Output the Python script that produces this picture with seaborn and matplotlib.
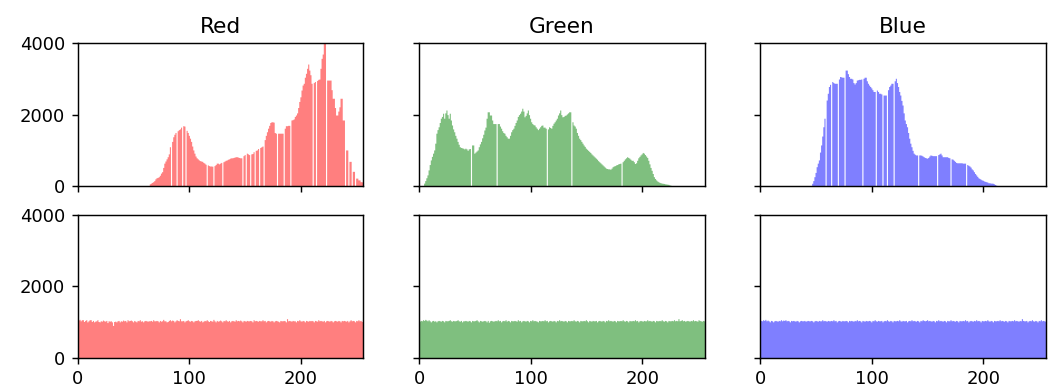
import numpy as np
import pandas as pd
import matplotlib
matplotlib.use("Agg")
import matplotlib.pyplot as plt
import seaborn as sns

# Per-channel pixel counts for intensity levels 0..255
channels = ["Red", "Green", "Blue"]
channel_colors = ["r", "g", "b"]
levels = np.arange(256)

# Original image
red_counts = [
    0, 0, 0, 0, 0, 0, 0, 0, 0, 0, 0, 0, 0, 0, 0, 0,
    0, 0, 0, 0, 0, 0, 0, 0, 0, 0, 0, 0, 0, 0, 0, 0,
    0, 0, 0, 0, 0, 0, 0, 0, 0, 0, 0, 0, 0, 0, 0, 0,
    0, 0, 0, 0, 0, 0, 0, 0, 0, 0, 0, 0, 0, 0, 0, 0,
    60, 80, 100, 120, 150, 200, 230, 240, 260, 300, 360, 400, 520, 640, 700, 760,
    820, 900, 1100, 0, 1250, 1380, 1450, 1500, 0, 1550, 1580, 1600, 1650, 0, 1690, 1680,
    0, 1560, 1500, 1420, 1340, 1250, 1120, 1010, 920, 840, 790, 760, 730, 710, 700, 690,
    660, 640, 610, 0, 590, 570, 560, 560, 555, 0, 570, 600, 640, 640, 620, 640,
    660, 0, 680, 700, 720, 730, 750, 760, 780, 790, 790, 800, 810, 820, 820, 810,
    800, 790, 790, 0, 850, 880, 0, 920, 900, 880, 0, 900, 910, 960, 0, 1000,
    1010, 1050, 0, 1080, 1100, 1120, 0, 1300, 1420, 1520, 1620, 1700, 1780, 1800, 1800, 1790,
    1500, 1480, 0, 1480, 1480, 1480, 1480, 1480, 0, 1620, 1690, 1690, 1700, 1700, 0, 1850,
    1860, 1880, 1950, 1990, 2050, 2200, 2370, 2500, 2690, 2830, 2880, 3050, 3160, 3300, 3420, 3250,
    3120, 2880, 0, 2900, 2930, 0, 2960, 2990, 3000, 3300, 3580, 3700, 4150, 4150, 0, 2970,
    2970, 2970, 2970, 2700, 2460, 2460, 2200, 1990, 1990, 2100, 2220, 2460, 2460, 1850, 1850, 0,
    1010, 1010, 0, 690, 690, 0, 410, 410, 0, 220, 220, 170, 170, 120, 120, 100,
]

green_counts = [
    0, 0, 0, 0, 80, 150, 230, 310, 450, 600, 730, 830, 920, 1010, 1200, 1480,
    1580, 1660, 1780, 1900, 1950, 2040, 1900, 2050, 2130, 2000, 1900, 2040, 1850, 1710, 1600, 1520,
    1420, 1340, 1250, 1170, 1100, 1080, 1070, 1060, 1040, 1060, 1040, 1000, 1040, 1050, 0, 1150,
    1150, 920, 950, 980, 1010, 1100, 1180, 1250, 1350, 1450, 1570, 1650, 1900, 2080, 2080, 1990,
    1990, 1850, 1750, 1750, 1750, 0, 1750, 1750, 1680, 1620, 1550, 1500, 1480, 1420, 1380, 1340,
    1340, 1420, 1520, 1580, 1620, 1700, 1780, 1850, 1950, 2000, 2040, 2100, 2180, 2100, 1940, 1980,
    2050, 2130, 2000, 1900, 1800, 1750, 1720, 1710, 1660, 1620, 1580, 1620, 1660, 1700, 1710, 1650,
    1650, 1620, 0, 1600, 1660, 1640, 1620, 1700, 1760, 1800, 1850, 1900, 1990, 2050, 2130, 2000,
    1940, 1950, 1980, 1990, 2020, 2050, 2080, 2080, 0, 1800, 1710, 1680, 1620, 1500, 1420, 1340,
    1300, 1250, 1200, 1150, 1110, 1060, 1030, 1000, 970, 940, 900, 870, 840, 810, 780, 750,
    710, 680, 650, 620, 590, 560, 530, 500, 490, 480, 480, 470, 500, 540, 560, 570,
    590, 600, 620, 630, 640, 0, 680, 720, 760, 790, 820, 800, 780, 750, 720, 720,
    680, 630, 650, 720, 790, 830, 870, 900, 940, 920, 880, 840, 800, 720, 620, 520,
    440, 350, 260, 210, 170, 140, 120, 100, 90, 80, 75, 70, 60, 55, 50, 45,
    30, 20, 0, 0, 0, 0, 0, 0, 0, 0, 0, 0, 0, 0, 0, 0,
    0, 0, 0, 0, 0, 0, 0, 0, 0, 0, 0, 0, 0, 0, 0, 0,
]

blue_counts = [
    0, 0, 0, 0, 0, 0, 0, 0, 0, 0, 0, 0, 0, 0, 0, 0,
    0, 0, 0, 0, 0, 0, 0, 0, 0, 0, 0, 0, 0, 0, 0, 0,
    0, 0, 0, 0, 0, 0, 0, 0, 0, 0, 0, 0, 0, 0, 75, 150,
    260, 380, 540, 640, 730, 950, 1150, 1400, 1660, 1900, 0, 2410, 2600, 2790, 2850, 0,
    2930, 2900, 2880, 2880, 2880, 0, 3000, 3070, 3060, 3050, 3050, 0, 3250, 3250, 3150, 3070,
    3020, 3020, 3000, 2900, 2860, 2900, 2970, 2980, 2990, 2990, 3000, 0, 3020, 3050, 3050, 2950,
    2880, 2830, 2790, 2750, 2700, 2650, 2650, 0, 2690, 2650, 2600, 2600, 2580, 0, 2550, 2550,
    2550, 0, 2700, 2790, 2830, 2880, 2880, 0, 2950, 3020, 2900, 2790, 2650, 2550, 2400, 2270,
    2050, 1850, 1750, 1660, 1500, 1340, 1200, 1100, 1000, 920, 890, 870, 870, 0, 870, 870,
    860, 840, 820, 800, 790, 780, 800, 840, 870, 860, 850, 850, 850, 850, 0, 880,
    900, 920, 870, 820, 820, 820, 820, 820, 800, 790, 0, 760, 750, 720, 690, 660,
    650, 650, 650, 650, 650, 640, 640, 640, 0, 600, 580, 560, 530, 480, 450, 400,
    350, 310, 270, 230, 210, 190, 170, 160, 140, 130, 120, 110, 90, 90, 80, 80,
    75, 60, 40, 20, 0, 0, 0, 0, 0, 0, 0, 0, 0, 0, 0, 0,
    0, 0, 0, 0, 0, 0, 0, 0, 0, 0, 0, 0, 0, 0, 0, 0,
    0, 0, 0, 0, 0, 0, 0, 0, 0, 0, 0, 0, 0, 0, 0, 0,
]

# After histogram equalization
red_eq_counts = [
    1050, 1070, 1030, 1060, 1060, 1010, 1040, 1060, 1000, 1030, 1060, 1060, 1010, 1040, 1000, 1020,
    1030, 1060, 1010, 1000, 1030, 1020, 1050, 1030, 1020, 1040, 980, 1030, 1020, 1030, 1000, 900,
    1010, 1020, 1000, 1030, 1040, 1000, 1030, 1020, 1050, 1030, 1040, 1000, 1060, 1030, 1040, 1050,
    1030, 1000, 1040, 1020, 1000, 1040, 1030, 1060, 1020, 1030, 1000, 1030, 1040, 1030, 1020, 1030,
    1030, 1040, 1020, 1060, 1030, 1030, 1040, 1030, 1000, 1040, 1020, 1030, 1070, 1030, 1030, 1000,
    1010, 1040, 1060, 1030, 1050, 1040, 1000, 1030, 1060, 1040, 1030, 1090, 1030, 1030, 1040, 1000,
    1030, 1040, 1060, 1030, 1020, 1040, 1030, 1000, 1030, 1040, 1040, 1060, 1030, 1020, 1040, 1000,
    1020, 1040, 1030, 1060, 1030, 1010, 1040, 1030, 1020, 1070, 1030, 1000, 1040, 1020, 1030, 1050,
    1030, 1000, 1040, 1030, 1060, 1030, 1020, 1040, 1000, 1030, 1040, 1030, 1020, 1060, 1030, 1040,
    1030, 1050, 1030, 1000, 1040, 1030, 1020, 1040, 1030, 1030, 1040, 1030, 1000, 1060, 1030, 1040,
    1030, 1020, 1040, 1030, 1030, 1060, 1030, 1040, 1000, 1030, 1040, 1030, 1020, 1040, 1030, 1000,
    1030, 1040, 1030, 1020, 1000, 1040, 1030, 1030, 1040, 1030, 1000, 1090, 1030, 1040, 1030, 1020,
    1040, 1030, 1030, 1000, 1040, 1030, 1060, 1030, 1020, 1040, 1030, 1000, 1040, 1030, 1020, 1040,
    1030, 1040, 1030, 1000, 1040, 1030, 1020, 1060, 1030, 1040, 1030, 1020, 1040, 1000, 1030, 1040,
    1030, 1020, 1040, 1030, 1000, 1030, 1040, 1030, 1020, 1040, 1030, 1000, 1040, 1030, 1040, 1030,
    1020, 1040, 1000, 1030, 1060, 1030, 1040, 1030, 1000, 1040, 1030, 1060, 1030, 1040, 1010, 1050,
]

green_eq_counts = [
    1020, 1040, 1030, 1060, 1040, 1070, 1050, 1030, 1060, 1030, 1000, 1030, 1040, 1020, 1030, 1000,
    1030, 1040, 1030, 1020, 1040, 1030, 1000, 1040, 1030, 1030, 1040, 1060, 1030, 1020, 1040, 1030,
    1030, 1040, 1060, 1030, 1020, 1040, 1000, 1030, 1030, 1040, 1030, 1020, 1040, 1030, 1000, 1040,
    1030, 1030, 1040, 1060, 1030, 1000, 1040, 1030, 1020, 1030, 1040, 1030, 1000, 1040, 990, 1030,
    1040, 1030, 1020, 1030, 1040, 1030, 1060, 1030, 1040, 1000, 1030, 1040, 1030, 1060, 1020, 1040,
    1030, 1000, 1040, 1030, 1030, 1040, 1030, 1020, 1060, 1030, 1040, 1000, 1030, 1040, 1030, 1020,
    1040, 1030, 1000, 1040, 1030, 1060, 1030, 1040, 1030, 1020, 1000, 1040, 1030, 1030, 1040, 1030,
    1060, 1030, 1040, 1000, 1030, 1040, 1030, 1020, 1040, 1030, 1000, 1040, 1030, 1060, 1030, 1040,
    1030, 1020, 1040, 1030, 1000, 1040, 1030, 1030, 1040, 1030, 1060, 1030, 1020, 1040, 1030, 1000,
    1040, 1030, 1030, 1040, 1030, 1060, 1030, 1000, 1040, 1030, 1020, 1040, 1030, 1030, 1040, 1000,
    1030, 1040, 1030, 1020, 1040, 1030, 1000, 1040, 1030, 1060, 1030, 1040, 1030, 1020, 1040, 1030,
    1000, 1040, 1030, 1030, 1040, 1030, 1060, 1030, 1020, 1040, 1030, 1000, 1040, 1030, 1030, 1040,
    1030, 1060, 1030, 1040, 1000, 1030, 1040, 1030, 1020, 1040, 1030, 1030, 1060, 1030, 1040, 1030,
    1020, 1040, 1030, 1000, 1040, 1030, 1030, 1040, 1030, 1060, 1030, 1020, 1040, 1030, 1000, 1040,
    1030, 1030, 1040, 1030, 1060, 1030, 1040, 1030, 1090, 1030, 1040, 1060, 1030, 1040, 1020, 1030,
    1040, 1030, 1020, 1040, 1030, 1060, 1030, 1040, 1030, 1020, 1060, 1040, 1030, 1020, 1040, 1030,
]

blue_eq_counts = [
    1040, 1030, 1060, 1040, 1070, 1030, 1050, 1030, 1000, 1040, 1030, 1000, 1030, 1040, 1030, 1020,
    1040, 1030, 1060, 1030, 1050, 1040, 1060, 1030, 1040, 1030, 1000, 1040, 1030, 1040, 1030, 1020,
    1040, 1030, 1000, 1030, 1040, 1030, 1030, 1040, 1020, 1030, 1040, 1030, 1030, 1040, 1030, 1000,
    1030, 1040, 1030, 1020, 1040, 1030, 1030, 1060, 1030, 1040, 1030, 1020, 1040, 1030, 1030, 1040,
    1030, 1060, 1030, 1040, 1000, 1030, 1040, 1030, 1020, 1040, 1030, 1030, 1040, 1030, 1000, 1040,
    1030, 1040, 1030, 1020, 1040, 1030, 1060, 1030, 1040, 1030, 1000, 1040, 1030, 1020, 1040, 1030,
    1030, 1040, 1030, 1000, 1040, 1030, 1060, 1030, 1020, 1040, 1030, 1030, 1040, 1000, 1030, 1040,
    1030, 1060, 1030, 1020, 1040, 1030, 1000, 1040, 1030, 1030, 1040, 1030, 1060, 1030, 1020, 1040,
    1030, 1030, 1040, 1000, 1030, 1040, 1030, 1060, 1030, 1040, 1030, 1020, 1040, 1030, 1000, 1040,
    1030, 1060, 1040, 1030, 1040, 1060, 1030, 1040, 1030, 1020, 1040, 1030, 1000, 1040, 1030, 1060,
    1030, 1040, 1030, 1020, 1040, 1030, 1000, 1040, 1030, 1030, 1060, 1030, 1040, 1030, 1020, 1040,
    1030, 1000, 1040, 1030, 1030, 1040, 1030, 1060, 1030, 1040, 1000, 1030, 1040, 1030, 1020, 1040,
    1030, 1060, 1030, 1040, 1030, 1000, 1040, 1030, 1030, 1040, 1030, 1060, 1030, 1020, 1040, 1030,
    1000, 1040, 1030, 1030, 1040, 1030, 1060, 1030, 1040, 1030, 1020, 1040, 1030, 1000, 1040, 1030,
    1030, 1040, 1030, 1060, 1030, 1040, 1030, 1020, 1040, 1030, 1090, 1040, 1030, 1030, 1040, 1000,
    1030, 1040, 1030, 1060, 1030, 1020, 1040, 1030, 1000, 1040, 1030, 1060, 1030, 1040, 1030, 1020,
]

rows = [
    [red_counts, green_counts, blue_counts],
    [red_eq_counts, green_eq_counts, blue_eq_counts],
]

fig, axes = plt.subplots(2, 3, sharex=True, sharey=True,
                         figsize=(1054 / 130, 387 / 130), dpi=130)
fig.subplots_adjust(left=0.0739, right=0.9923, bottom=0.0762, top=0.888,
                    wspace=0.195, hspace=0.203)

for r, row in enumerate(rows):
    for c, counts in enumerate(row):
        ax = axes[r, c]
        df = pd.DataFrame({"level": levels, "count": counts})
        sns.histplot(data=df, x="level", weights="count", bins=256,
                     binrange=(0, 256), element="step", fill=True,
                     color=channel_colors[c], alpha=0.5, linewidth=0, ax=ax)
        ax.set_xlabel("")
        ax.set_ylabel("")
        if r == 0:
            ax.set_title(channels[c])

axes[0, 0].set_xlim(0, 256)
axes[0, 0].set_ylim(0, 4000)
axes[0, 0].set_xticks([0, 100, 200])
axes[0, 0].set_yticks([0, 2000, 4000])

fig.savefig("out.png", dpi=130)
